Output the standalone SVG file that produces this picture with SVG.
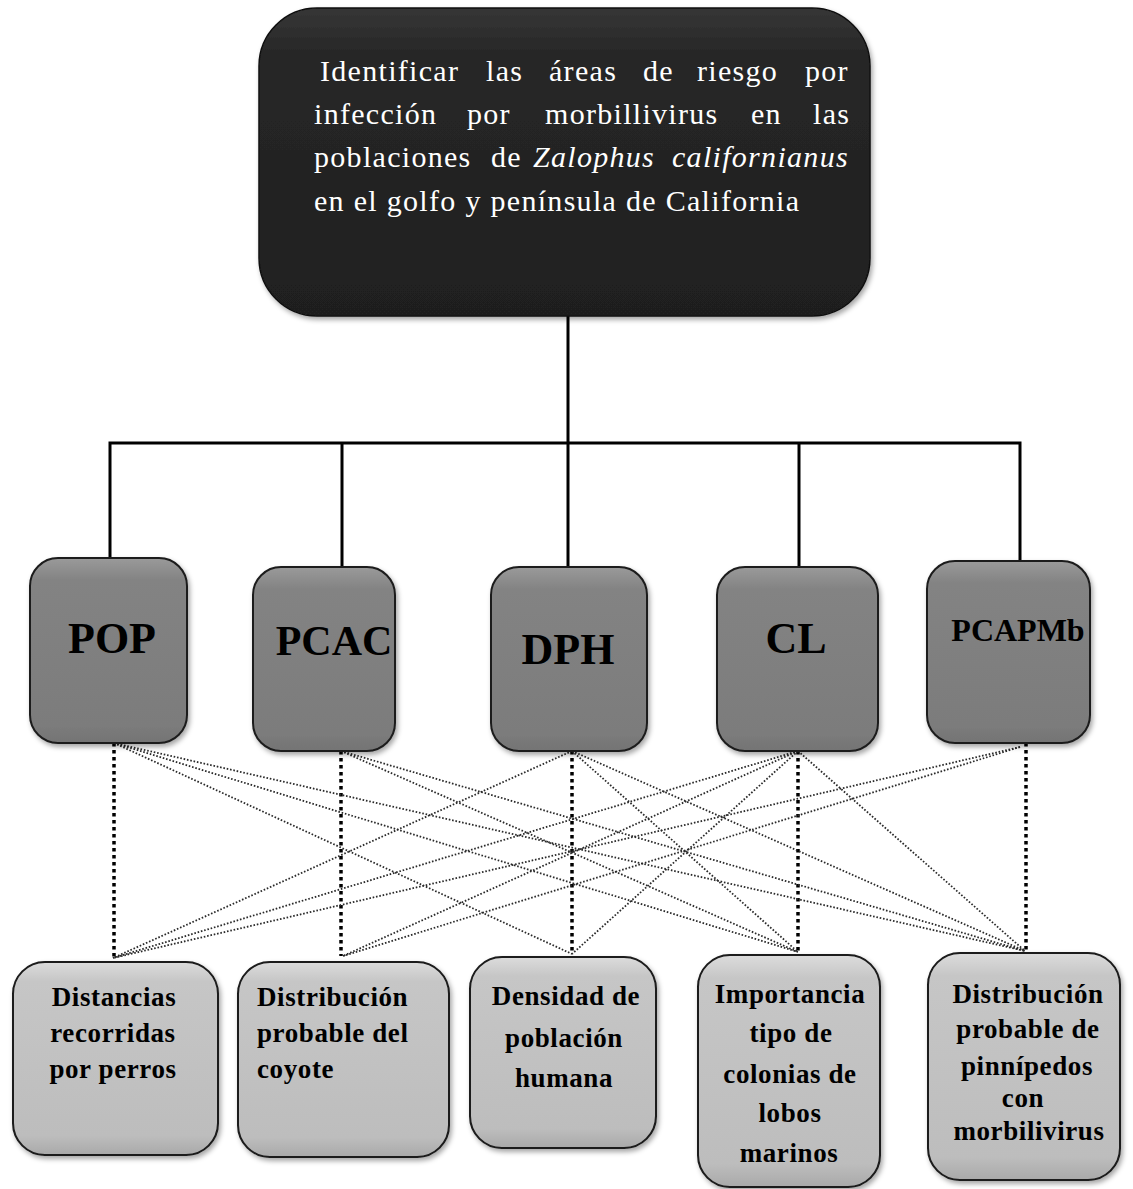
<svg xmlns="http://www.w3.org/2000/svg" width="1133" height="1189" viewBox="0 0 1133 1189">
<defs>
<linearGradient id="gTop" x1="0" y1="0" x2="0" y2="1">
<stop offset="0" stop-color="#363636"/>
<stop offset="0.15" stop-color="#272727"/>
<stop offset="1" stop-color="#1f1f1f"/>
</linearGradient>
<linearGradient id="gMid" x1="0" y1="0" x2="0" y2="1">
<stop offset="0" stop-color="#9a9a9a"/>
<stop offset="0.12" stop-color="#838383"/>
<stop offset="0.9" stop-color="#7c7c7c"/>
<stop offset="1" stop-color="#747474"/>
</linearGradient>
<linearGradient id="gBot" x1="0" y1="0" x2="0" y2="1">
<stop offset="0" stop-color="#dcdcdc"/>
<stop offset="0.1" stop-color="#c6c6c6"/>
<stop offset="0.9" stop-color="#bdbdbd"/>
<stop offset="1" stop-color="#a9a9a9"/>
</linearGradient>
<filter id="sh" x="-10%" y="-10%" width="125%" height="125%">
<feDropShadow dx="2" dy="3" stdDeviation="2.5" flood-color="#000" flood-opacity="0.35"/>
</filter>
</defs>
<style>
.top{fill:url(#gTop);stroke:#111;stroke-width:1.5}
.mid{fill:url(#gMid);stroke:#1c1c1c;stroke-width:2}
.bot{fill:url(#gBot);stroke:#1a1a1a;stroke-width:2}
.tt{font-family:"Liberation Serif","Times New Roman",serif;font-size:30px;fill:#fff;letter-spacing:1.3px}
.ml{font-family:"Liberation Serif","Times New Roman",serif;font-size:44px;font-weight:bold;fill:#000;text-anchor:middle}
.ms{font-family:"Liberation Serif","Times New Roman",serif;font-size:32px;font-weight:bold;fill:#000;text-anchor:middle}
.bl{font-family:"Liberation Serif","Times New Roman",serif;font-size:27px;font-weight:bold;fill:#000;letter-spacing:0.6px}
.c{text-anchor:middle}
.tree{fill:none;stroke:#000;stroke-width:3}
.vd{fill:none;stroke:#000;stroke-width:3.5;stroke-dasharray:3.5 3.5}
.dd{fill:none;stroke:#2a2a2a;stroke-width:1.8;stroke-dasharray:1.6 1.8}
</style>

<g id="connectors">
<path class="tree" d="M568,316 V443 M108.5,443 H1021.5 M110,443 V558 M342,443 V567 M568,443 V567 M799,443 V567 M1020,443 V561"/>
<path class="vd" d="M114,743 V958 M341,751 V956 M572,751 V954 M798,751 V952 M1026,743 V951"/>
<g class="dd">
<line x1="114" y1="743" x2="572" y2="954"/>
<line x1="114" y1="743" x2="798" y2="952"/>
<line x1="114" y1="743" x2="1025" y2="951"/>
<line x1="341" y1="751" x2="798" y2="952"/>
<line x1="341" y1="751" x2="1025" y2="951"/>
<line x1="572" y1="751" x2="113" y2="958"/>
<line x1="572" y1="751" x2="798" y2="952"/>
<line x1="572" y1="751" x2="1025" y2="951"/>
<line x1="798" y1="751" x2="113" y2="958"/>
<line x1="798" y1="751" x2="343" y2="956"/>
<line x1="798" y1="751" x2="572" y2="954"/>
<line x1="798" y1="751" x2="1025" y2="951"/>
<line x1="1020" y1="747" x2="113" y2="958"/>
<line x1="1020" y1="747" x2="343" y2="956"/>
</g>
</g>

<g id="goal">
<rect class="top" x="259" y="8" width="611" height="308" rx="58" filter="url(#sh)"/>
<text class="tt" y="81"><tspan x="320">Identificar</tspan><tspan x="486">las</tspan><tspan x="549">áreas</tspan><tspan x="643">de</tspan><tspan x="697">riesgo</tspan><tspan x="805">por</tspan></text>
<text class="tt" y="124"><tspan x="314">infección</tspan><tspan x="467">por</tspan><tspan x="545">morbillivirus</tspan><tspan x="751">en</tspan><tspan x="813">las</tspan></text>
<text class="tt" y="167"><tspan x="314">poblaciones</tspan><tspan x="491">de</tspan><tspan x="533" font-style="italic">Zalophus</tspan><tspan x="672" font-style="italic">californianus</tspan></text>
<text class="tt" x="314" y="211">en el golfo y península de California</text>
</g>

<g id="pop">
<rect class="mid" x="30" y="558" width="157" height="185" rx="28" filter="url(#sh)"/>
<text class="ml" x="112" y="653">POP</text>
</g>
<g id="pcac">
<rect class="mid" x="253" y="567" width="142" height="184" rx="28" filter="url(#sh)"/>
<text class="ml" x="334" y="655" style="font-size:42px">PCAC</text>
</g>
<g id="dph">
<rect class="mid" x="491" y="567" width="156" height="184" rx="28" filter="url(#sh)"/>
<text class="ml" x="568" y="664">DPH</text>
</g>
<g id="cl">
<rect class="mid" x="717" y="567" width="161" height="184" rx="28" filter="url(#sh)"/>
<text class="ml" x="796" y="653">CL</text>
</g>
<g id="pcapmb">
<rect class="mid" x="927" y="561" width="163" height="182" rx="28" filter="url(#sh)"/>
<text class="ms" x="1018" y="641">PCAPMb</text>
</g>

<g id="b1">
<rect class="bot" x="13" y="962" width="205" height="193" rx="32" filter="url(#sh)"/>
<text class="bl c" x="114" y="1006">Distancias</text>
<text class="bl c" x="113" y="1042">recorridas</text>
<text class="bl c" x="113" y="1078">por perros</text>
</g>
<g id="b2">
<rect class="bot" x="238" y="962" width="211" height="195" rx="32" filter="url(#sh)"/>
<text class="bl" x="257" y="1006">Distribución</text>
<text class="bl" x="257" y="1042">probable del</text>
<text class="bl" x="257" y="1078">coyote</text>
</g>
<g id="b3">
<rect class="bot" x="470" y="957" width="186" height="191" rx="32" filter="url(#sh)"/>
<text class="bl c" x="566" y="1005">Densidad de</text>
<text class="bl c" x="564" y="1047">población</text>
<text class="bl c" x="564" y="1087">humana</text>
</g>
<g id="b4">
<rect class="bot" x="698" y="955" width="182" height="232" rx="32" filter="url(#sh)"/>
<text class="bl c" x="790" y="1003">Importancia</text>
<text class="bl c" x="791" y="1042">tipo de</text>
<text class="bl c" x="790" y="1083">colonias de</text>
<text class="bl c" x="790" y="1122">lobos</text>
<text class="bl c" x="789" y="1162">marinos</text>
</g>
<g id="b5">
<rect class="bot" x="928" y="953" width="192" height="227" rx="32" filter="url(#sh)"/>
<text class="bl c" x="1028" y="1003">Distribución</text>
<text class="bl c" x="1028" y="1038">probable de</text>
<text class="bl c" x="1027" y="1075">pinnípedos</text>
<text class="bl c" x="1023" y="1107">con</text>
<text class="bl c" x="1029" y="1140">morbilivirus</text>
</g>
</svg>
